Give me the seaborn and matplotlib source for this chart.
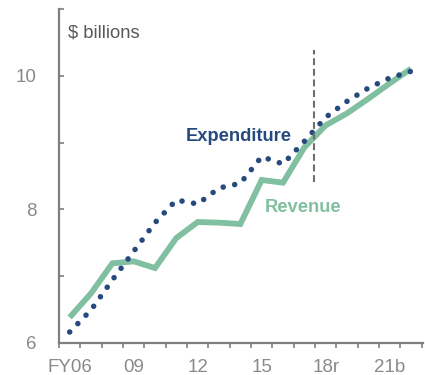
import matplotlib
matplotlib.use("Agg")
import matplotlib.pyplot as plt
import seaborn as sns
import pandas as pd
import numpy as np

years = ["FY06", "07", "08", "09", "10", "11", "12", "13", "14", "15", "16", "17", "18r", "19", "20", "21b", "22"]
revenue = [6.38, 6.74, 7.19, 7.22, 7.12, 7.57, 7.81, 7.80, 7.78, 8.44, 8.40, 8.93, 9.26, 9.44, 9.66, 9.89, 10.11]
expenditure = [6.16, 6.49, 6.94, 7.37, 7.80, 8.14, 8.08, 8.32, 8.39, 8.79, 8.68, 9.02, 9.38, 9.62, 9.82, 9.97, 10.07]
shown_labels = {0: "FY06", 3: "09", 6: "12", 9: "15", 12: "18r", 15: "21b"}

GREEN = "#80bfa0"
BLUE = "#264a7e"
GRAY = "#7f7f7f"

sns.set_theme(style="white")
plt.rcParams["font.family"] = ["Liberation Sans", "DejaVu Sans"]

df = pd.DataFrame({"idx": np.arange(len(years)), "Revenue": revenue, "Expenditure": expenditure})

fig = plt.figure(figsize=(4.25, 3.75), dpi=100)
ax = fig.add_axes([59 / 425, 32.3 / 375, (423 - 59) / 425, (365.7 - 32.3) / 375])

sns.lineplot(data=df, x="idx", y="Revenue", ax=ax, color=GREEN, linewidth=4.2)
rev_line = ax.lines[-1]
rev_line.set_solid_capstyle("butt")
rev_line.set_solid_joinstyle("miter")

sns.lineplot(data=df, x="idx", y="Expenditure", ax=ax, color=BLUE, linewidth=4.0)
exp_line = ax.lines[-1]
exp_line.set_linestyle((0, (0.01, 2.1)))
exp_line.set_dash_capstyle("round")

ax.plot([11.45, 11.45], [8.41, 10.39], color="#6f6f6f", linewidth=1.5,
        linestyle=(0, (3.3, 1.8)))

ax.set_xlim(-0.5, 16.56)
ax.set_ylim(6, 11)

ax.set_xticks(list(shown_labels.keys()))
ax.set_xticklabels(list(shown_labels.values()))
ax.set_xticks(np.arange(-0.5, 16.6, 1), minor=True)
ax.tick_params(axis="x", which="major", length=0, pad=12, labelsize=13.5, labelcolor="#8a8a8a")
ax.tick_params(axis="x", which="minor", length=3.5, width=1.2, color=GRAY, direction="out", bottom=True)

ax.set_yticks([6, 7, 8, 9, 10, 11])
ax.set_yticklabels(["6", "", "8", "", "10", ""])
ax.tick_params(axis="y", which="major", length=3.5, width=1.2, color=GRAY, direction="in",
               pad=16, labelsize=13.5, labelcolor="#8a8a8a", left=True)

for side in ["top", "right"]:
    ax.spines[side].set_visible(False)
for side in ["left", "bottom"]:
    ax.spines[side].set_color(GRAY)
    ax.spines[side].set_linewidth(1.6)

ax.set_xlabel("")
ax.set_ylabel("")
ax.grid(False)

ax.text(-0.08, 10.58, "$ billions", fontsize=13.2, color="#595959", ha="left", va="baseline")
ax.text(5.45, 9.03, "Expenditure", fontsize=13.2, color=BLUE, fontweight="bold", ha="left", va="baseline")
ax.text(9.16, 7.96, "Revenue", fontsize=13.2, color=GREEN, fontweight="bold", ha="left", va="baseline")

fig.savefig("out.png", dpi=100)
